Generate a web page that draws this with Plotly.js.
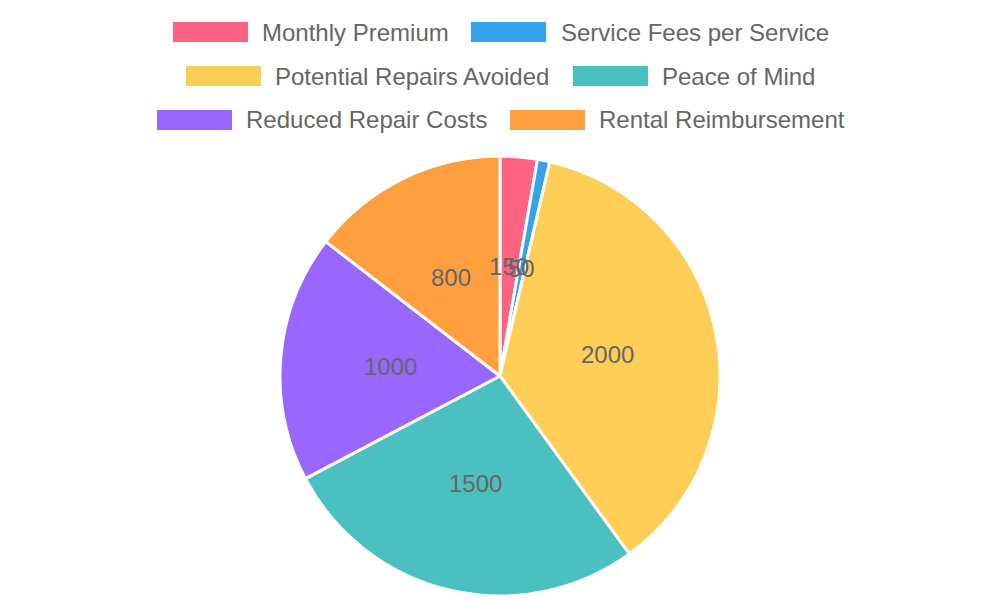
<!DOCTYPE html>
<html>
<head>
<meta charset="utf-8">
<script src="https://cdn.plot.ly/plotly-3.0.1.min.js"></script>
<style>html,body{margin:0;padding:0;background:#fff;} #chart{width:1000px;height:600px;}</style>
</head>
<body>
<div id="chart"></div>
<script>
const labels = ["Monthly Premium", "Service Fees per Service", "Potential Repairs Avoided", "Peace of Mind", "Reduced Repair Costs", "Rental Reimbursement"];
const values = [150, 50, 2000, 1500, 1000, 800];
const colors = ["#FF6384", "#36A2EB", "#FFCE56", "#4BC0C0", "#9966FF", "#FF9F40"];

// legend layout in pixels: [box left, text left, row centre]
const legend_pos = [[173, 261, 32], [471, 560, 32], [186, 274, 76], [573, 661, 76], [157, 245, 120], [510, 598, 120]];
const W = 1000, H = 600;
const pie_top = 156, pie_bottom = 596; // pie area in pixels
const font_family = "'Liberation Sans', Arial, Helvetica, sans-serif";

const shapes = [], annotations = [];
labels.forEach((lab, i) => {
    const [bx, tx, cy] = legend_pos[i];
    shapes.push({type: "rect", xref: "paper", yref: "paper", x0: bx / W, x1: (bx + 75) / W, y0: 1 - (cy - 10) / H, y1: 1 - (cy + 10) / H,
        fillcolor: colors[i], line: {width: 0}});
    annotations.push({xref: "paper", yref: "paper", x: tx / W, y: 1 - cy / H, xanchor: "left", yanchor: "middle", showarrow: false,
        text: lab, font: {size: 24, color: "#666", family: font_family}, borderpad: 0});
});

// value labels sit halfway out along each slice's middle angle (clockwise from 12 o'clock)
const total = values.reduce((a, b) => a + b, 0);
const cx = W / 2, cy = (pie_top + pie_bottom) / 2, r = (pie_bottom - pie_top) / 2;
let cum = 0;
values.forEach(v => {
    const a = 2 * Math.PI * (cum + v / 2) / total; cum += v;
    annotations.push({xref: "paper", yref: "paper", x: (cx + r / 2 * Math.sin(a)) / W, y: 1 - (cy - r / 2 * Math.cos(a)) / H,
        xanchor: "center", yanchor: "middle", showarrow: false, text: String(v),
        font: {size: 24, color: "#666", family: font_family}, borderpad: 0});
});

const trace = {type: "pie", labels: labels, values: values, sort: false, direction: "clockwise", rotation: 0,
    marker: {colors: colors, line: {color: "#fff", width: 3}},
    textinfo: "none", hoverinfo: "none", domain: {x: [0, 1], y: [1 - pie_bottom / H, 1 - pie_top / H]}};

const layout = {width: W, height: H, margin: {t: 0, l: 0, r: 0, b: 0}, showlegend: false,
    paper_bgcolor: "#fff", plot_bgcolor: "#fff", shapes: shapes, annotations: annotations};

Plotly.newPlot("chart", [trace], layout, {displayModeBar: false, staticPlot: true});
</script>
</body>
</html>
